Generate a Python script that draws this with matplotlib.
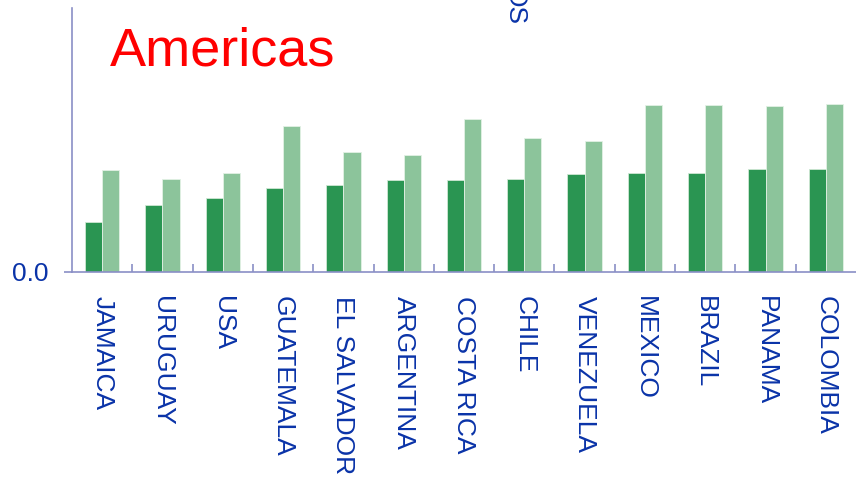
import matplotlib
matplotlib.use('Agg')
import matplotlib.pyplot as plt
import numpy as np

countries = ['JAMAICA', 'URUGUAY', 'USA', 'GUATEMALA', 'EL SALVADOR', 'ARGENTINA',
             'COSTA RICA', 'CHILE', 'VENEZUELA', 'MEXICO', 'BRAZIL', 'PANAMA', 'COLOMBIA']
series_dark = [0.493, 0.667, 0.737, 0.84, 0.863, 0.917, 0.917, 0.93, 0.975, 0.99, 0.99, 1.025, 1.025]
series_light = [1.017, 0.927, 0.983, 1.457, 1.193, 1.17, 1.53, 1.34, 1.31, 1.67, 1.665, 1.655, 1.675]

axis_col = '#8a8fc6'
text_col = '#0a33a8'

plt.rcParams['font.family'] = ['Liberation Sans', 'DejaVu Sans']

fig = plt.figure(figsize=(8.56, 4.82), dpi=100)
ax = fig.add_axes([72 / 856, 1 - 271.5 / 482, 1 - 72 / 856, (271.5 - 8) / 482])

x = np.arange(len(countries))
w = 0.285
ax.bar(x - w / 2, series_dark, w, color='#2a9552', edgecolor='#cfe8d4', linewidth=0.6)
ax.bar(x + w / 2, series_light, w, color='#8cc49b', edgecolor='#e2f1e5', linewidth=0.6)

ax.set_xlim(-0.5, len(countries) - 0.5)
ax.set_ylim(0, 2.635)

for s in ['top', 'right']:
    ax.spines[s].set_visible(False)
for s in ['left', 'bottom']:
    ax.spines[s].set_color(axis_col)
    ax.spines[s].set_linewidth(1.2)

ax.set_xticks(x)
ax.set_xticklabels(countries, rotation=270, ha='center', va='top', color=text_col, fontsize=19)
ax.tick_params(axis='x', which='major', length=0, pad=18)
ax.set_xticks(x[:-1] + 0.5, minor=True)
ax.tick_params(axis='x', which='minor', direction='in', length=6, width=1.2, color=axis_col)

ax.set_yticks([0])
ax.set_yticklabels(['0.0'], color=text_col, fontsize=19)
ax.tick_params(axis='y', direction='out', length=6, width=1.2, color=axis_col, pad=11)

ax.text(110 / 856, 1 - 65 / 482, 'Americas', transform=fig.transFigure, color='red',
        fontsize=39, ha='left', va='baseline')
fig.text(515 / 856, 1 - 25 / 482, 'OS', rotation=270, color=text_col, fontsize=19,
         ha='center', va='bottom')

fig.savefig('out.png', dpi=100)
plt.close('all')
